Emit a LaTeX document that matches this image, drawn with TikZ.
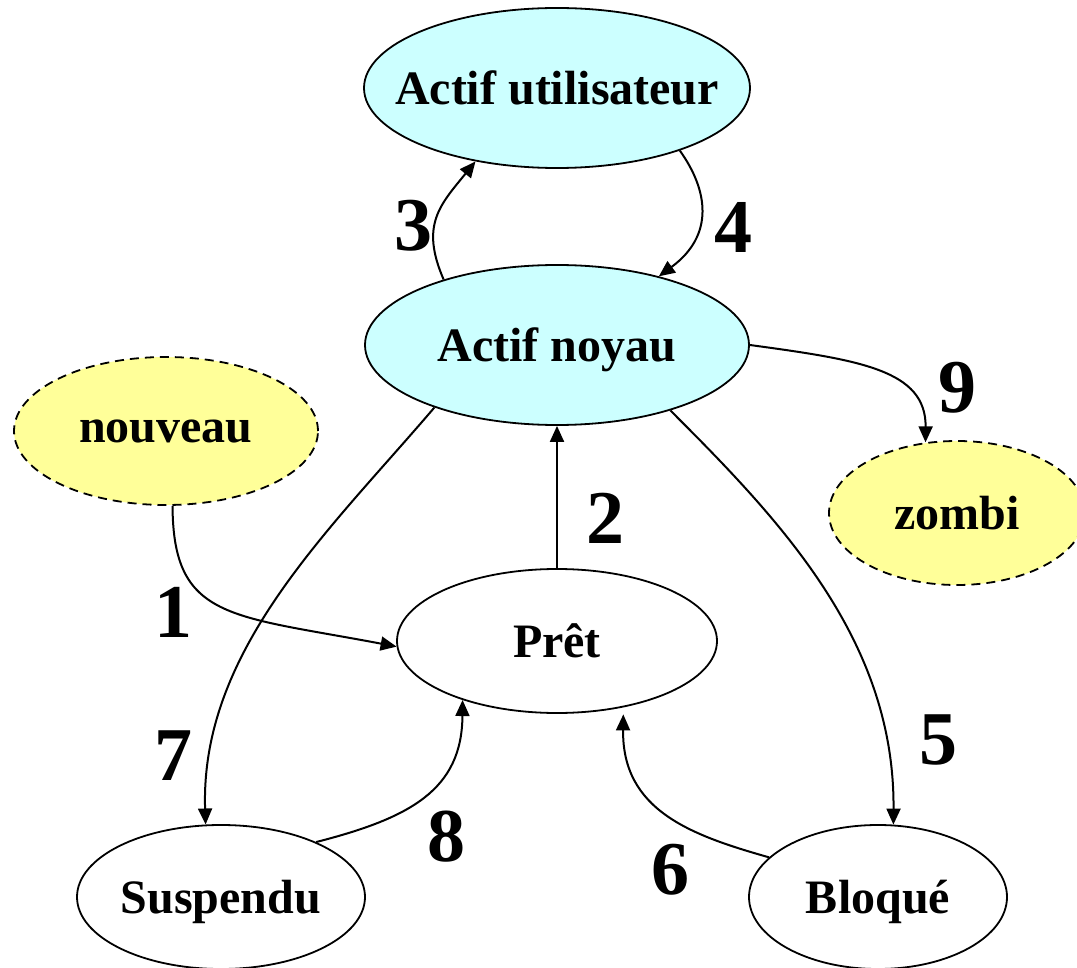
\documentclass[tikz,border=0pt]{standalone}
\usepackage{fontspec}
\setmainfont{Liberation Serif}
\usetikzlibrary{shapes.geometric,arrows.meta}
\definecolor{actifbleu}{RGB}{204,255,255}
\definecolor{bordjaune}{RGB}{255,255,153}
\begin{document}
\begin{tikzpicture}[x=1pt,y=-1pt,
  etat/.style={ellipse,draw=black,line width=1.8pt,inner sep=0pt},
  actif/.style={etat,fill=actifbleu},
  extreme/.style={etat,fill=bordjaune,dash pattern=on 9pt off 6pt},
  nom/.style={font=\fontsize{48}{56}\selectfont\bfseries,text depth=0pt,inner sep=0pt},
  trans/.style={-{Triangle[length=16pt,width=14pt]},line width=2pt},
  num/.style={font=\fontsize{76}{80}\selectfont\bfseries,inner sep=0pt}]
\useasboundingbox (0,0) rectangle (1077,968);
\clip (0,0) rectangle (1077,968);

% process states
\node[actif,minimum width=386pt,minimum height=160pt,label={[nom]center:Actif utilisateur}] (au) at (557,88) {};
\node[actif,minimum width=384pt,minimum height=160pt,label={[nom]center:Actif noyau}] (an) at (557,345) {};
\node[extreme,minimum width=304pt,minimum height=148pt,label={[nom]center:nouveau}] (no) at (166,431) {};
\node[extreme,minimum width=256pt,minimum height=144pt,label={[nom]center:zombi}] (zo) at (957,513) {};
\node[etat,minimum width=320pt,minimum height=144pt,label={[nom]center:Prêt}] (pr) at (557,641) {};
\node[etat,minimum width=288pt,minimum height=144pt,label={[nom]center:Suspendu}] (su) at (221,897) {};
\node[etat,minimum width=258pt,minimum height=144pt,label={[nom]center:Bloqué}] (bl) at (878,897) {};

% transitions
\draw[trans] (no.275) .. controls (173,620) and (230,615) .. (pr.182);
\draw[trans] (pr.north) -- (an.south);
\draw[trans] (an.150) .. controls (420,225) and (440,205) .. (au.222);
\draw[trans] (au.333) .. controls (708,190) and (715,235) .. (an.34);
\draw[trans] (an.330) .. controls (780,520) and (895,640) .. (bl.78);
\draw[trans,shorten >=7pt] (bl.160) .. controls (690,835) and (622,810) .. (pr.315);
\draw[trans] (an.207) .. controls (330,530) and (200,650) .. (su.102);
\draw[trans] (su.30) .. controls (410,818) and (462,790) .. (pr.212);
\draw[trans] (an.east) .. controls (860,360) and (926,370) .. (zo.114);

% transition numbers
\node[num] (n1) at (173,612) {1};
\node[num] (n2) at (605,518) {2};
\node[num] (n3) at (413,226) {3};
\node[num] (n4) at (733,227) {4};
\node[num] (n5) at (938,740) {5};
\node[num] (n6) at (670,870) {6};
\node[num] (n7) at (173,756) {7};
\node[num] (n8) at (446,837) {8};
\node[num] (n9) at (957,388) {9};
\end{tikzpicture}
\end{document}
